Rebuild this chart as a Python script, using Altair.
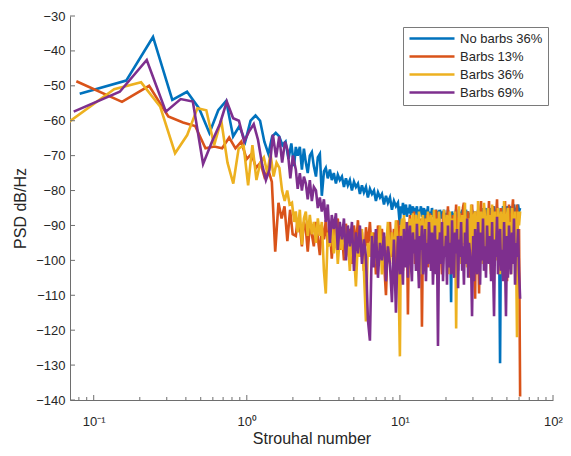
import altair as alt
import pandas as pd

FONT = "Liberation Sans"
TXT = "#262626"
AX = "#6e6e6e"

SERIES = ["No barbs 36%", "Barbs 13%", "Barbs 36%", "Barbs 69%"]
COLORS = ["#0072BD", "#D95319", "#EDB120", "#7E2F8E"]

# ---- low-frequency part (native frequency grid of each run) ----
BLUE_F_LOW = [0.081, 0.163, 0.244, 0.326, 0.407, 0.488, 0.570, 0.651, 0.733, 0.814,
              0.895, 0.977, 1.058, 1.140, 1.221, 1.302, 1.384, 1.465, 1.546, 1.628,
              1.709, 1.791, 1.872, 1.953, 2.035]
BLUE_V_LOW = [-52.3, -48.5, -36.0, -54.0, -51.7, -56.5, -63.5, -57.0, -54.3, -64.5,
              -61.5, -66.0, -60.0, -58.5, -60.0, -66.0, -69.5, -64.5, -63.5, -64.5,
              -67.0, -66.0, -71.0, -66.5, -73.0]

ORANGE_F_LOW = [0.077, 0.153, 0.230, 0.307, 0.383, 0.460, 0.537, 0.613, 0.690, 0.767,
                0.843, 0.920, 0.997, 1.073, 1.150, 1.227, 1.303, 1.380, 1.457, 1.533,
                1.610, 1.687, 1.763, 1.840, 1.917, 1.993]
ORANGE_V_LOW = [-48.7, -54.6, -50.0, -58.8, -60.5, -61.5, -67.9, -67.4, -67.9, -64.8,
                -67.9, -66.0, -71.0, -69.5, -73.5, -72.0, -76.0, -74.0, -77.5, -97.5,
                -83.5, -88.0, -84.5, -94.5, -85.5, -92.5]

YELLOW_F_LOW = [0.068, 0.136, 0.204, 0.272, 0.340, 0.408, 0.476, 0.544, 0.612, 0.680,
                0.748, 0.816, 0.884, 0.952, 1.020, 1.088, 1.156, 1.224, 1.292, 1.360,
                1.428, 1.496, 1.564, 1.632, 1.700, 1.768, 1.836, 1.904, 1.972, 2.040]
YELLOW_V_LOW = [-60.5, -51.0, -49.0, -56.0, -69.3, -64.1, -56.4, -57.0, -67.0, -59.8,
                -72.0, -78.0, -68.0, -67.0, -78.5, -67.0, -77.0, -72.0, -70.5, -75.0,
                -69.5, -76.0, -72.0, -73.5, -80.0, -83.0, -80.0, -84.0, -83.5, -89.0]

PURPLE_F_LOW = [0.074, 0.148, 0.222, 0.296, 0.370, 0.444, 0.518, 0.592, 0.666, 0.740,
                0.814, 0.888, 0.962, 1.036, 1.110, 1.184, 1.258, 1.332, 1.406, 1.480,
                1.554, 1.628, 1.702, 1.776, 1.850, 1.924, 1.998]
PURPLE_V_LOW = [-57.4, -51.7, -42.6, -57.4, -53.8, -54.5, -72.4, -66.0, -61.0, -54.5,
                -59.3, -60.0, -66.0, -63.0, -61.0, -65.5, -72.5, -77.0, -74.0, -64.0,
                -70.5, -64.5, -72.0, -66.0, -68.5, -76.5, -70.0]

# ---- mid-frequency part (2 - 10), common sampling ----
F_MID = [2.09, 2.15, 2.22, 2.29, 2.36, 2.43, 2.50, 2.58, 2.66, 2.74,
         2.83, 2.91, 3.00, 3.09, 3.19, 3.28, 3.38, 3.49, 3.59, 3.70,
         3.82, 3.93, 4.05, 4.18, 4.31, 4.44, 4.57, 4.71, 4.86, 5.01,
         5.16, 5.32, 5.48, 5.65, 5.82, 6.00, 6.18, 6.37, 6.57, 6.77,
         6.97, 7.19, 7.41, 7.63, 7.87, 8.11, 8.35, 8.61, 8.87, 9.14,
         9.42, 9.71]

BLUE_V_MID = [-67.5, -70, -67.5, -74, -68, -72, -75, -70, -69, -73,
              -76, -70.5, -69.5, -81.5, -74.5, -73.5, -76.5, -74, -77, -75,
              -78, -75.5, -77, -76, -79, -76.5, -78.5, -77, -80, -77.5,
              -79, -78, -81, -78.5, -80.5, -79, -82, -79.5, -81, -80,
              -83, -80.5, -82, -81, -84, -81.5, -83.5, -82, -85.5, -83,
              -84.5, -83.5]
ORANGE_V_MID = [-93, -88, -90, -96, -89, -91, -97.5, -90, -92.5, -96,
                -89, -93.5, -98.5, -90, -94, -88.5, -96, -91, -99.5, -90,
                -95, -88, -97, -92, -100, -89.5, -95.5, -91, -101, -90,
                -96, -88.5, -98, -92, -103, -90.5, -96, -89, -99, -92,
                -104, -90, -97, -91, -100, -110, -93, -89, -99, -91,
                -102, -88.5]
YELLOW_V_MID = [-86, -92, -85.5, -95.5, -88, -86, -93, -87, -92.5, -89,
                -95, -88, -93, -89, -103, -109.5, -92, -96, -89, -98,
                -91, -101, -93, -97, -90, -99, -94, -103, -92, -98,
                -107.5, -94, -99, -91, -103, -117.5, -95, -99, -92, -101,
                -94, -98, -90, -104, -93, -97, -89, -101, -92, -99,
                -88.5, -96]
PURPLE_V_MID = [-74, -79.5, -75, -80, -76, -78, -82.5, -77, -83, -79,
                -80, -85, -82, -86, -82.5, -89, -84, -95, -87, -91,
                -86.5, -97, -89, -94, -88, -100, -90, -96, -89, -103,
                -92, -98, -90, -101, -94, -99, -117, -123, -93, -102,
                -91, -105, -95, -100, -92, -106, -96, -101, -112, -94,
                -115, -93]

# ---- high-frequency part (10 - 61), dense common sampling ----
F_TOP = [10.0, 10.15, 10.31, 10.47, 10.62, 10.78, 10.95, 11.11, 11.28, 11.45,
         11.63, 11.80, 11.98, 12.16, 12.35, 12.54, 12.73, 12.92, 13.12, 13.32,
         13.52, 13.72, 13.93, 14.14, 14.36, 14.58, 14.80, 15.02, 15.25, 15.48,
         15.72, 15.96, 16.20, 16.44, 16.69, 16.94, 17.20, 17.46, 17.73, 18.00,
         18.27, 18.55, 18.83, 19.12, 19.41, 19.70, 20.0, 20.3, 20.6, 20.9,
         21.2, 21.6, 21.9, 22.2, 22.6, 22.9, 23.3, 23.6, 24.0, 24.3,
         24.7, 25.1, 25.5, 25.8, 26.2, 26.6, 27.0, 27.5, 27.9, 28.3,
         28.7, 29.2, 29.6, 30.1, 30.5, 31.0, 31.4, 31.9, 32.4, 32.9,
         33.4, 33.9, 34.4, 34.9, 35.4, 36.0, 36.5, 37.1, 37.6, 38.2,
         38.8, 39.4, 40.0, 40.6, 41.2, 41.8, 42.4, 43.1, 43.7, 44.4,
         45.1, 45.8, 46.4, 47.2, 47.9, 48.6, 49.3, 50.1, 50.8, 51.6,
         52.4, 53.2, 54.0, 54.8, 55.6, 56.5, 57.3, 58.2, 59.1, 60.0,
         61.0]

BLUE_V_TOP = [-90, -84.5, -86.5, -83.5, -87, -85, -84, -87.5, -85, -86.5,
              -84, -87, -85.5, -84.5, -88, -85, -86.5, -84.5, -88.5, -85.5,
              -86.5, -84.5, -87.5, -86, -85, -88.5, -85.5, -87, -84.5, -93,
              -86, -88, -85, -87.5, -86, -89, -85.5, -87, -86.5, -89,
              -85.5, -88, -86, -87.5, -85.5, -89, -86.5, -88, -85.5, -89.5,
              -86.5, -112, -86, -88.5, -86.5, -89, -85.5, -88, -87, -89.5,
              -86, -88.5, -85.5, -87.5, -86.5, -89, -85.5, -88, -86, -89,
              -86.5, -88, -85.5, -89.5, -86, -88, -86.5, -89, -85.5, -87.5,
              -86, -89, -85, -88, -86.5, -87.5, -85, -89, -86, -87.5,
              -85, -88.5, -86, -87, -84.5, -88, -85.5, -87.5, -85, -88,
              -129.5, -85, -87.5, -84.5, -86.5, -85, -88, -84.5, -86, -87.5,
              -84.5, -86.5, -85, -87.5, -84, -86.5, -85, -87, -84, -86,
              -85]
ORANGE_V_TOP = [-97, -90, -94, -103, -88, -92, -99, -89, -115.5, -93,
                -87, -98, -91, -95, -86, -101, -92, -89, -97, -90,
                -94, -88, -119, -92, -88, -99, -93, -87, -102, -90,
                -86.5, -96, -103, -89, -92, -97, -85.5, -91, -100, -88,
                -94, -98, -104, -87, -86, -95, -98, -90, -84.5, -96,
                -101, -88, -93, -87, -96, -91, -84, -99, -103, -88,
                -86.5, -95, -99, -85, -83.5, -94, -100, -89, -86, -97,
                -105, -90, -84, -93, -98, -111, -86, -90, -94, -109.5,
                -86, -83, -96, -101, -88, -85.5, -92, -97, -90, -83,
                -95, -104, -87, -84.5, -93, -99, -88, -82.5, -96, -102,
                -91, -85, -94, -98, -88, -83, -97, -106, -89, -84,
                -93, -100, -86, -82.5, -95, -97, -88, -84, -99, -91,
                -139]
YELLOW_V_TOP = [-127.5, -92, -88, -98, -87, -94, -101, -89, -91, -96,
                -88, -103, -90, -86.5, -95, -98, -87, -92, -100, -86,
                -93, -104, -89, -87, -97, -99, -88, -94, -86, -101,
                -90, -87, -96, -99, -85.5, -92, -98, -88, -104, -86,
                -91, -95, -89, -101, -85.5, -93, -98, -87, -89, -104,
                -86, -94, -88, -97, -90, -86, -119.5, -95, -97, -84.5,
                -92, -101, -87, -89, -95, -83.5, -98, -102, -88, -91,
                -97, -84, -93, -100, -87, -86, -96, -104, -83, -90,
                -98, -86, -92, -101, -83.5, -88, -97, -90, -85, -99,
                -87, -103, -84, -92, -99, -86, -95, -100, -85, -89,
                -104, -86, -93, -98, -83, -91, -100, -87, -85, -96,
                -89, -104, -85, -92, -98, -86, -94, -122, -86, -90,
                -86]
PURPLE_V_TOP = [-104, -93, -99, -107, -91, -96, -102, -89, -105, -95,
                -90, -101, -106, -92, -98, -94, -103, -89.5, -100, -108,
                -93, -97, -90, -104, -99, -91, -106, -95, -101, -89,
                -96, -103, -92, -107, -98, -90, -104, -94, -124.5, -97,
                -92, -101, -89, -106, -96, -99, -93, -107, -90, -102,
                -95, -104, -88.5, -100, -105, -92, -98, -91, -108, -94,
                -99, -89, -103, -96, -107, -92, -101, -88, -105, -95,
                -98, -102, -116, -93, -106, -91, -99, -104, -89, -97,
                -107, -92, -100, -88, -103, -96, -105, -90, -98, -101,
                -93, -106, -89, -102, -116, -94, -99, -87.5, -104, -96,
                -91, -103, -97, -106, -89, -100, -116, -93, -105, -90,
                -98, -104, -92, -101, -88, -107, -95, -99, -91, -103,
                -111]

Y_TICKS = [-140, -130, -120, -110, -100, -90, -80, -70, -60, -50, -40, -30]
X_MAJOR = [0.1, 1, 10, 100]
X_MINOR = [0.08, 0.09, 0.2, 0.3, 0.4, 0.5, 0.6, 0.7, 0.8, 0.9,
           2, 3, 4, 5, 6, 7, 8, 9, 20, 30, 40, 50, 60, 70, 80, 90]

rows = []
for name, fl, vl, vm, vt in [
    (SERIES[0], BLUE_F_LOW, BLUE_V_LOW, BLUE_V_MID, BLUE_V_TOP),
    (SERIES[1], ORANGE_F_LOW, ORANGE_V_LOW, ORANGE_V_MID, ORANGE_V_TOP),
    (SERIES[2], YELLOW_F_LOW, YELLOW_V_LOW, YELLOW_V_MID, YELLOW_V_TOP),
    (SERIES[3], PURPLE_F_LOW, PURPLE_V_LOW, PURPLE_V_MID, PURPLE_V_TOP),
]:
    assert len(fl) == len(vl), (name, "low", len(fl), len(vl))
    assert len(vm) == len(F_MID), (name, "mid", len(vm), len(F_MID))
    assert len(vt) == len(F_TOP), (name, "top", len(vt), len(F_TOP))
    for f, v in zip(fl + F_MID + F_TOP, vl + vm + vt):
        rows.append({"series": name, "f": f, "v": v})
df = pd.DataFrame(rows)

W, H = 483, 384

x_scale = alt.Scale(type="log", domain=[0.07, 100], nice=False)
y_scale = alt.Scale(domain=[-140, -30], nice=False, zero=False)

x_axis = alt.Axis(
    values=X_MAJOR,
    labelExpr="datum.value < 0.5 ? '10⁻¹' : datum.value < 5 ? '10⁰' : datum.value < 50 ? '10¹' : '10²'",
    ticks=False, tickSize=0, grid=False,
    domainColor=AX, domainWidth=1,
    labelFont=FONT, labelFontSize=13, labelColor=TXT,
    labelPadding=25, labelBaseline="alphabetic", labelFlush=False, labelOverlap=False,
    title="Strouhal number", titleFont=FONT, titleFontSize=16, titleFontWeight="normal",
    titleColor=TXT, titleX=W / 2, titleY=43, titleBaseline="alphabetic", titleAlign="center",
    titleAngle=0,
)
y_axis = alt.Axis(
    values=Y_TICKS,
    ticks=False, tickSize=0, grid=False,
    domainColor=AX, domainWidth=1,
    labelFont=FONT, labelFontSize=13, labelColor=TXT,
    labelPadding=5, labelFlush=False, labelOverlap=False,
    title="PSD dB/Hz", titleFont=FONT, titleFontSize=16, titleFontWeight="normal",
    titleColor=TXT, titleX=-45, titleY=H / 2, titleAngle=270,
    titleBaseline="alphabetic", titleAlign="center",
)

color_enc = alt.Color(
    "series:N",
    scale=alt.Scale(domain=SERIES, range=COLORS),
    legend=alt.Legend(
        title=None, orient="none", legendX=333, legendY=11,
        symbolType="M-1,0H8", symbolSize=100, symbolStrokeWidth=2.7,
        labelOffset=39, padding=5, rowPadding=4,
        strokeColor="#7a7a7a", fillColor="white", cornerRadius=0,
        labelFont=FONT, labelFontSize=13, labelColor=TXT,
    ),
)

layers = []
for s in SERIES:
    layers.append(
        alt.Chart(df)
        .transform_filter(alt.datum.series == s)
        .mark_line(strokeWidth=2.6, clip=True)
        .encode(
            x=alt.X("f:Q", scale=x_scale, axis=x_axis),
            y=alt.Y("v:Q", scale=y_scale, axis=y_axis),
            color=color_enc,
        )
    )

yt = alt.Chart(pd.DataFrame({"t": Y_TICKS})).mark_rule(color=AX, strokeWidth=1).encode(
    y=alt.Y("t:Q", scale=y_scale, axis=y_axis), x=alt.value(0), x2=alt.value(5)
)
xt_major = alt.Chart(pd.DataFrame({"t": X_MAJOR})).mark_rule(color=AX, strokeWidth=1).encode(
    x=alt.X("t:Q", scale=x_scale, axis=x_axis), y=alt.value(H), y2=alt.value(H - 5)
)
xt_minor = alt.Chart(pd.DataFrame({"t": X_MINOR})).mark_rule(color=AX, strokeWidth=1).encode(
    x=alt.X("t:Q", scale=x_scale, axis=x_axis), y=alt.value(H), y2=alt.value(H - 3)
)

chart = (
    alt.layer(*layers, yt, xt_major, xt_minor)
    .properties(
        width=W, height=H,
        autosize=alt.AutoSizeParams(type="none"),
        padding={"left": 62, "top": 8, "right": 10, "bottom": 46},
        background="white",
    )
    .configure_view(stroke=None)
)

chart.save("out.html", embed_options={"renderer": "svg", "actions": False})
